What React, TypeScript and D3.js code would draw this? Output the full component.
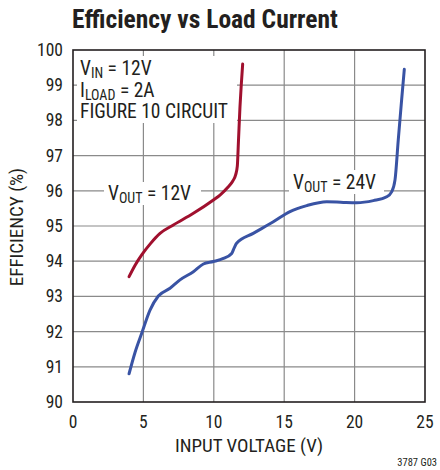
import React from "react";
import * as d3 from "d3";

const xTicks = [0, 5, 10, 15, 20, 25];
const yTicks = [90, 91, 92, 93, 94, 95, 96, 97, 98, 99, 100];

const vout12X = [3.98, 4.4, 4.88, 5.5, 6.18, 7.13, 8.55, 9.97, 10.44, 11.0, 11.35, 11.55, 11.67, 11.75, 11.86, 11.95, 12.05];
const vout12Y = [93.56, 93.88, 94.18, 94.5, 94.79, 95.03, 95.36, 95.74, 95.88, 96.1, 96.28, 96.45, 96.7, 97.4, 98.39, 99.0, 99.6];

const vout24X = [3.98, 4.4, 4.88, 5.47, 6.06, 6.89, 7.6, 8.55, 9.26, 9.97, 10.68, 11.27, 11.45, 11.62, 12.8, 14.23, 15.41, 16.6, 18.02, 19.2, 20.15, 21.33, 22.28, 22.63, 22.87, 23.1, 23.34, 23.53];
const vout24Y = [90.8, 91.4, 91.95, 92.61, 93.01, 93.23, 93.47, 93.7, 93.92, 93.99, 94.08, 94.22, 94.38, 94.51, 94.79, 95.12, 95.41, 95.58, 95.69, 95.67, 95.66, 95.72, 95.83, 95.97, 96.31, 97.44, 98.58, 99.45];

const FONT = "'Liberation Sans Narrow', 'Arial Narrow', 'Roboto Condensed', sans-serif";

export default function App() {
  const W = 440, H = 470;
  const L = 73, R = 425, T = 50, B = 402;
  const x = d3.scaleLinear().domain([0, 25]).range([L, R]);
  const y = d3.scaleLinear().domain([90, 100]).range([B, T]);
  const line = d3.line<[number, number]>().x(d => x(d[0])).y(d => y(d[1])).curve(d3.curveMonotoneX);
  const red = line(vout12X.map((v, i) => [v, vout12Y[i]]) as [number, number][]) || "";
  const blue = line(vout24X.map((v, i) => [v, vout24Y[i]]) as [number, number][]) || "";

  return (
    <svg width={W} height={H} style={{ position: "absolute", left: 0, top: 0 }} fontFamily={FONT}>
      <rect width={W} height={H} fill="#fff" />
      <text x={72} y={28} fontSize={25.5} fontWeight="bold" fill="#231f20">Efficiency vs Load Current</text>
      {xTicks.slice(1, -1).map(t => (
        <line key={"gx" + t} x1={x(t)} x2={x(t)} y1={T} y2={B} stroke="#8a8a8a" strokeWidth={1.2} />
      ))}
      {yTicks.slice(1, -1).map(t => (
        <line key={"gy" + t} x1={L} x2={R} y1={y(t)} y2={y(t)} stroke="#8a8a8a" strokeWidth={1.2} />
      ))}
      {/* label backgrounds */}
      <rect x={77} y={56} width={160} height={67} fill="#fff" />
      <rect x={104} y={182} width={97} height={23} fill="#fff" />
      <rect x={289} y={170} width={95} height={24} fill="#fff" />
      <rect x={L} y={T} width={R - L} height={B - T} fill="none" stroke="#231f20" strokeWidth={1.6} />
      <path d={red} fill="none" stroke="#a0102e" strokeWidth={3} strokeLinecap="round" />
      <path d={blue} fill="none" stroke="#3953a4" strokeWidth={3} strokeLinecap="round" />
      {yTicks.map(t => (
        <text key={"yl" + t} x={63} y={y(t) + 6} fontSize={17.5} textAnchor="end" fill="#231f20">{t}</text>
      ))}
      {xTicks.map(t => (
        <text key={"xl" + t} x={x(t)} y={428} fontSize={17.5} textAnchor="middle" fill="#231f20">{t}</text>
      ))}
      <text x={249} y={452} fontSize={19} textAnchor="middle" fill="#231f20">INPUT VOLTAGE (V)</text>
      <text transform={`translate(23,${(T + B) / 2 + 1}) rotate(-90)`} fontSize={19} textAnchor="middle" fill="#231f20">EFFICIENCY (%)</text>
      <text x={437} y={466} fontSize={10.5} textAnchor="end" fill="#231f20">3787 G03</text>
      <text x={80} y={75} fontSize={19.5} fill="#231f20">V<tspan fontSize={14} dy={3}>IN</tspan><tspan dy={-3}> = 12V</tspan></text>
      <text x={80} y={97} fontSize={19.5} fill="#231f20">I<tspan fontSize={14} dy={3}>LOAD</tspan><tspan dy={-3}> = 2A</tspan></text>
      <text x={80} y={118} fontSize={19.5} fill="#231f20">FIGURE 10 CIRCUIT</text>
      <text x={108} y={200} fontSize={19.5} fill="#231f20">V<tspan fontSize={14} dy={3}>OUT</tspan><tspan dy={-3}> = 12V</tspan></text>
      <text x={293} y={189} fontSize={19.5} fill="#231f20">V<tspan fontSize={14} dy={3}>OUT</tspan><tspan dy={-3}> = 24V</tspan></text>
    </svg>
  );
}
